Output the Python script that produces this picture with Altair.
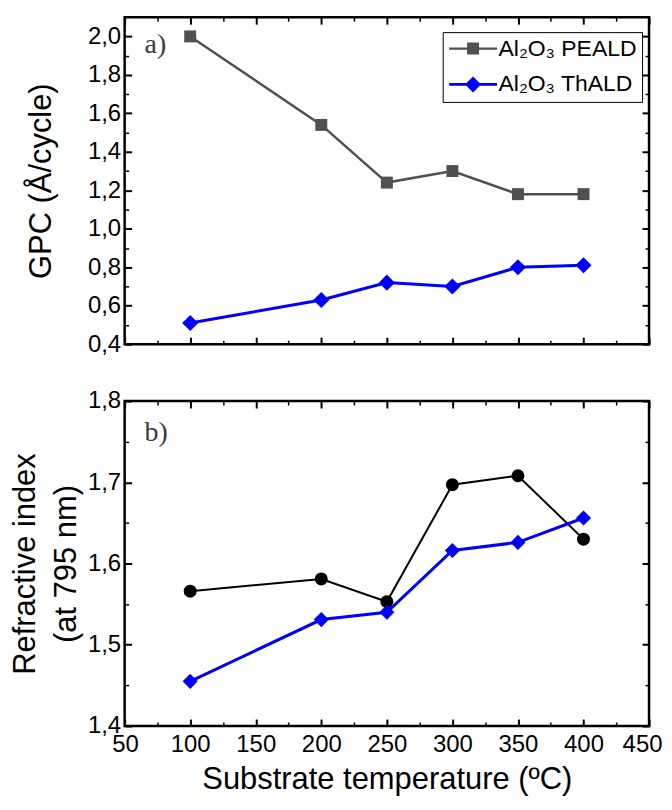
import altair as alt
import pandas as pd

# ---------------- data ----------------
temps = [100, 200, 250, 300, 350, 400]
gpc_peald = [2.00, 1.54, 1.24, 1.30, 1.18, 1.18]
gpc_thald = [0.51, 0.63, 0.72, 0.70, 0.80, 0.81]
ri_peald = [1.566, 1.581, 1.553, 1.697, 1.708, 1.630]
ri_thald = [1.455, 1.531, 1.540, 1.616, 1.626, 1.656]
series_names = ["Al\u2082O\u2083 PEALD", "Al\u2082O\u2083 ThALD"]

x_major = [50, 100, 150, 200, 250, 300, 350, 400, 450]
x_minor = [75, 125, 175, 225, 275, 325, 375, 425]
gpc_major = [0.4, 0.6, 0.8, 1.0, 1.2, 1.4, 1.6, 1.8, 2.0]
gpc_minor = [0.5, 0.7, 0.9, 1.1, 1.3, 1.5, 1.7, 1.9]
ri_major = [1.4, 1.5, 1.6, 1.7, 1.8]
ri_minor = [1.45, 1.55, 1.65, 1.75]

GRAY = "#505050"
BLUE = "#0000ff"
BLACK = "#000000"
FONT = "Arial, Liberation Sans"
SERIF = "Times New Roman, Liberation Serif"

top_df = pd.DataFrame({
    "T": temps * 2,
    "v": gpc_peald + gpc_thald,
    "s": [series_names[0]] * len(temps) + [series_names[1]] * len(temps),
})
peald_top = top_df[top_df.s == series_names[0]]
thald_top = top_df[top_df.s == series_names[1]]
peald_bot = pd.DataFrame({"T": temps, "v": ri_peald})
thald_bot = pd.DataFrame({"T": temps, "v": ri_thald})

xs = alt.Scale(domain=[50, 450], nice=False, zero=False)
ys_top = alt.Scale(domain=[0.4, 2.1], nice=False, zero=False)
ys_bot = alt.Scale(domain=[1.4, 1.8], nice=False, zero=False)

W = 526
H_TOP = 328
H_BOT = 326

COMMA = "replace(format(datum.value, '.1f'), '.', ',')"


def ax(orient, values, major, labels=False, title=None, label_expr=None,
       title_padding=10, label_padding=4, flush=False):
    size = 7 if major else 4
    kw = dict(
        orient=orient, values=values, tickSize=size, offset=-size,
        ticks=True, domain=False, grid=False, labels=labels,
        tickWidth=2 if major else 1.5, tickColor="black",
        labelFlush=flush, labelOverlap=False, labelPadding=label_padding,
        labelFont=FONT, labelFontSize=24, labelColor="black",
        title=title, titlePadding=title_padding,
        titleFont=FONT, titleFontSize=31, titleColor="black",
        titleFontWeight="normal", titleLineHeight=41,
    )
    if flush:
        kw["labelFlushOffset"] = 13
    if label_expr is not None:
        kw["labelExpr"] = label_expr
    return alt.Axis(**kw)


def panel(s1, s2, ys, ymaj, ymin, c1, c2, shape1, size1, shape2, size2,
          sw1, sw2, ytitle, ytitle_pad, xlabels, xtitle, h, tag, tag_y,
          legend_df=None):
    def enc(xa, ya):
        return dict(
            x=alt.X("T:Q", scale=xs, axis=xa),
            y=alt.Y("v:Q", scale=ys, axis=ya),
        )

    l1 = alt.Chart(s1).mark_line(color=c1, strokeWidth=sw1).encode(
        **enc(ax("bottom", x_major, True, labels=xlabels, title=xtitle,
                 title_padding=8, label_padding=7, flush=xlabels),
              ax("left", ymaj, True, labels=True, title=ytitle,
                 label_expr=COMMA, title_padding=ytitle_pad)))
    l2 = alt.Chart(s2).mark_line(color=c2, strokeWidth=sw2).encode(
        **enc(ax("bottom", x_minor, False), ax("left", ymin, False)))
    p1 = alt.Chart(s1).mark_point(shape=shape1, filled=True, size=size1,
                                  color=c1, opacity=1).encode(
        **enc(ax("top", x_major, True), ax("right", ymaj, True)))
    p2 = alt.Chart(s2).mark_point(shape=shape2, filled=True, size=size2,
                                  color=c2, opacity=1).encode(
        **enc(ax("top", x_minor, False), ax("right", ymin, False)))
    txt = alt.Chart(pd.DataFrame({"t": [tag]})).mark_text(
        font=SERIF, fontSize=28, color="#3a3a3a", align="left",
        baseline="alphabetic").encode(
        text="t:N", x=alt.value(20), y=alt.value(tag_y))
    layers = [l1, l2, p1, p2, txt]
    if legend_df is not None:
        # symbol: horizontal line with marker, drawn in units of 10 px
        sq = "M-1,-0.12H3.8V0.12H-1ZM0.8,-0.6H2V0.6H0.8Z"
        di = "M-1,-0.14H3.8V0.14H-1ZM1.4,-0.8L2.2,0L1.4,0.8L0.6,0Z"
        leg = alt.Legend(
            title=None, orient="none", legendX=319, legendY=15,
            symbolSize=400, symbolOpacity=1, symbolStrokeWidth=0,
            labelFont=FONT, labelFontSize=23, labelColor="black",
            labelOffset=28, strokeColor="black", padding=5,
            rowPadding=12, fillColor="white",
        )
        lg = alt.Chart(legend_df).mark_point(filled=True, opacity=0).encode(
            x=alt.X("T:Q", scale=xs, axis=None),
            y=alt.Y("v:Q", scale=ys, axis=None),
            color=alt.Color("s:N", scale=alt.Scale(domain=series_names,
                                                   range=[GRAY, BLUE]),
                            legend=leg),
            shape=alt.Shape("s:N", scale=alt.Scale(domain=series_names,
                                                   range=[sq, di]),
                            legend=leg),
        )
        layers.append(lg)
    return alt.layer(*layers).resolve_axis(
        x="independent", y="independent").properties(width=W, height=h)


top = panel(peald_top, thald_top, ys_top, gpc_major, gpc_minor,
            GRAY, BLUE, "square", 144, "diamond", 260, 2.5, 3,
            "GPC (\u00c5/cycle)", 30, False, None, H_TOP, "a)", 36,
            legend_df=top_df)
bottom = panel(peald_bot, thald_bot, ys_bot, ri_major, ri_minor,
               BLACK, BLUE, "circle", 170, "diamond", 230, 2, 3,
               ["Refractive index", "(at 795 nm)"], 5, True,
               "Substrate temperature (\u00baC)", H_BOT, "b)", 40)

chart = alt.vconcat(top, bottom, spacing=57, bounds="flush").properties(
    padding={"left": 0, "top": 5, "right": 0, "bottom": 0},
    background="white",
).configure_view(
    stroke="black", strokeWidth=2.5
)

chart.save("out.html", embed_options={"renderer": "svg", "actions": False})
